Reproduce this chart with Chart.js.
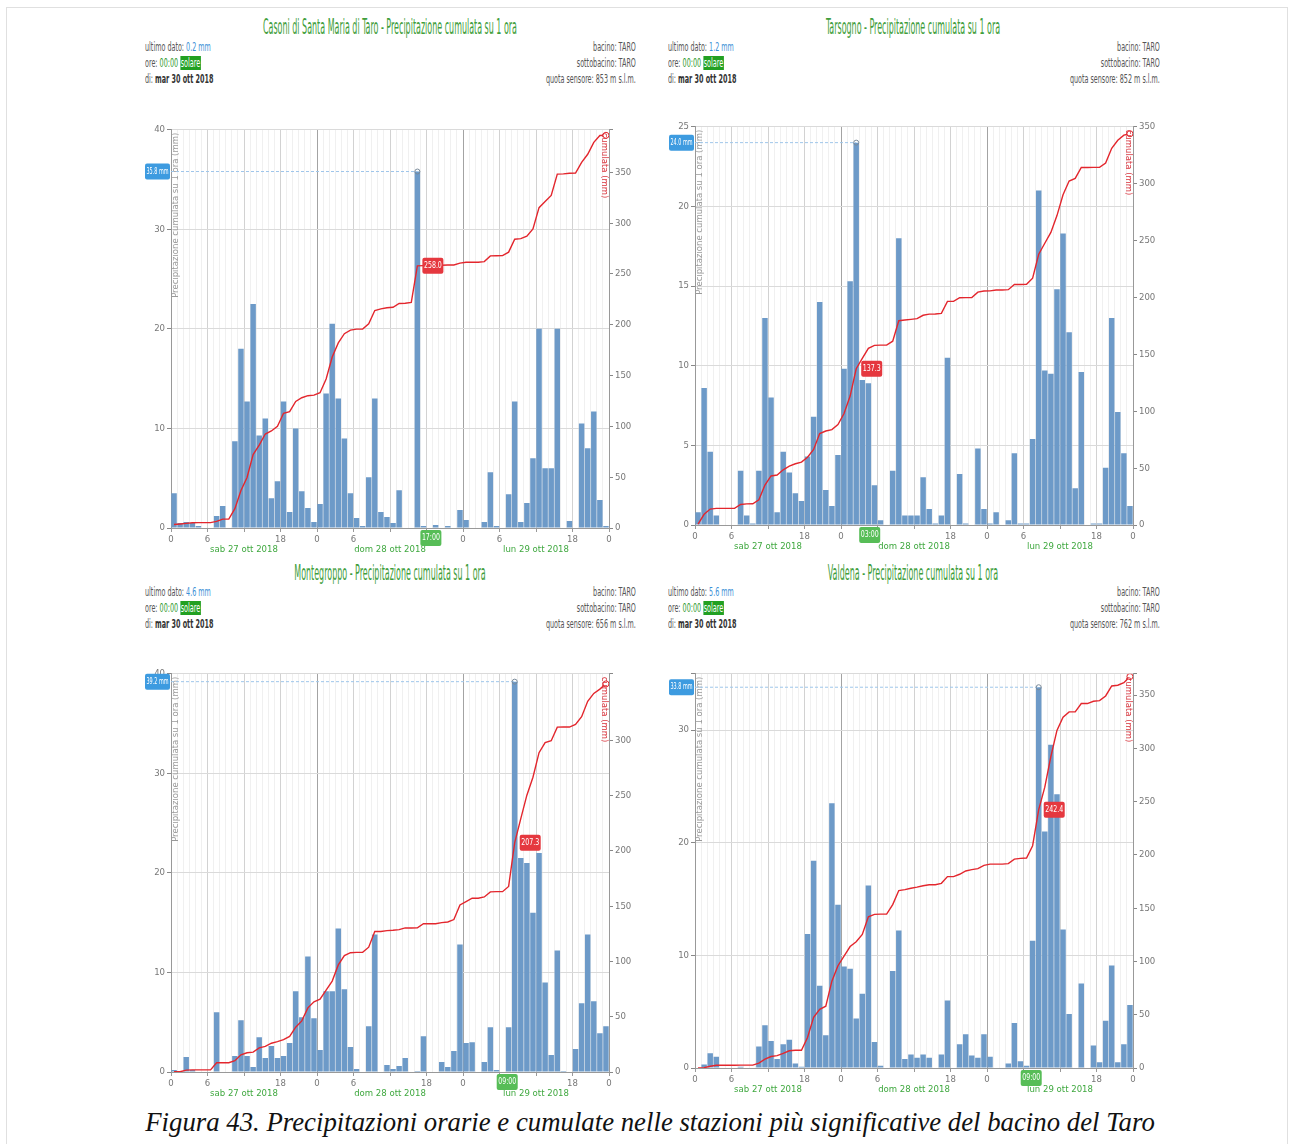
<!DOCTYPE html>
<html lang="it">
<head>
<meta charset="utf-8">
<title>Precipitazioni orarie e cumulate - bacino del Taro</title>
<script src="https://cdn.jsdelivr.net/npm/chart.js@4.4.1/dist/chart.umd.min.js"></script>
<style>
  html, body { margin: 0; padding: 0; background: #fff; }
  body { width: 1290px; height: 1144px; position: relative; overflow: hidden;
         font-family: "Liberation Sans Narrow", "DejaVu Sans Condensed", "Liberation Sans", sans-serif; }
  .frame { position: absolute; left: 6px; top: 7px; width: 1280px; height: 1140px; border: 1px solid #e0e0e0; }
  .title { position: absolute; color: #3f9e3c; font-size: 21px; line-height: 20px; white-space: nowrap; transform-origin: center center; }
  .info { position: absolute; font-size: 11.5px; line-height: 16px; color: #555; white-space: nowrap; }
  .info.l { transform-origin: left top; }
  .info.r { text-align: right; transform-origin: right top; }
  .blue { color: #3b8fd6; }
  .green { color: #2f9a2f; }
  .tag { background: #22a022; color: #fff; padding: 0 1px; }
  .dark { color: #333; font-weight: bold; }
  canvas { position: absolute; }
  .caption { position: absolute; top: 1107px; line-height: 30px; font-family: "Liberation Serif", "DejaVu Serif", serif;
             font-style: italic; font-size: 23px; color: #111; white-space: nowrap; }
</style>
</head>
<body>
<div class="frame"></div>
<div class="caption" id="caption">Figura 43. Precipitazioni orarie e cumulate nelle stazioni più significative del bacino del Taro</div>

<script>
// ===== Dati =====
const stations = ['Casoni di Santa Maria di Taro', 'Tarsogno', 'Montegroppo', 'Valdena'];
const ultimoDato = ['0.2', '1.2', '4.6', '5.6'];
const quote = ['853', '852', '656', '762'];
const bacino = 'TARO';
const oraDato = '00:00';
const giornoDato = 'mar 30 ott 2018';
const days = ['sab 27 ott 2018', 'dom 28 ott 2018', 'lun 29 ott 2018'];
const hourLabels = ['0', '6', '12', '18'];

// pioggia oraria (mm), 72 ore da sab 27 00:00
const rainCasoni = [
  3.5, 0.5, 0.6, 0.5, 0.2, 0, 0, 1.2, 2.2, 0,
  8.7, 18, 12.7, 22.5, 9.3, 11, 3, 4.7, 12.7, 1.6,
  10, 3.7, 2, 0.6, 2.4, 13.5, 20.5, 13, 9, 3.5,
  1, 0.2, 5.1, 13, 1.6, 1.1, 0.5, 3.8, 0, 0,
  35.8, 0.2, 0, 0.3, 0, 0.2, 0, 1.8, 0.8, 0,
  0, 0.6, 5.6, 0.2, 0, 3.4, 12.7, 0.6, 2.5, 7,
  20, 6, 6, 20, 0, 0.7, 0, 10.5, 8, 11.7,
  2.8, 0.2
];
const rainTarsogno = [
  0.8, 8.6, 4.6, 0.6, 0, 0, 0, 3.4, 0.6, 0.1,
  3.4, 13, 8, 0.8, 4.6, 3.3, 2, 1.5, 4.3, 6.8,
  14, 2.2, 1.2, 4.4, 9.8, 15.3, 24, 9.1, 8.9, 2.5,
  0.3, 0, 3.4, 18, 0.6, 0.6, 0.6, 3, 1, 0.1,
  0.6, 10.5, 0, 3.2, 0.1, 0, 4.8, 1, 0.1, 0.8,
  0, 0.3, 4.5, 0.1, 0.1, 5.4, 21, 9.7, 9.5, 14.8,
  18.3, 12.1, 2.3, 9.6, 0, 0.1, 0.1, 3.6, 13, 7.1,
  4.5, 1.2
];
const rainMontegroppo = [
  0.2, 0, 1.5, 0.2, 0, 0, 0, 6, 0, 0,
  1.6, 5.2, 1.6, 0.5, 3.5, 1.4, 2.6, 1.4, 1.6, 2.9,
  8.1, 5.5, 11.6, 5.4, 2.2, 8.1, 8.1, 14.4, 8.3, 2.5,
  0.3, 0, 4.6, 13.8, 0, 0.7, 0.3, 0.6, 1.4, 0,
  0.1, 3.6, 0, 0, 1, 0.5, 2.1, 12.8, 2.9, 3,
  0, 1, 4.5, 0.2, 0, 4.5, 39.2, 21.5, 21, 16,
  22, 9, 1.7, 12.2, 0.1, 0, 2.3, 6.9, 13.8, 7.1,
  3.9, 4.6
];
const rainValdena = [
  0, 0.3, 1.3, 1, 0, 0, 0, 0.1, 0, 0,
  1.9, 3.8, 2.4, 0.8, 2.1, 2.5, 0.4, 0.1, 11.9, 18.4,
  7.3, 2.9, 23.5, 14.5, 9, 8.8, 4.4, 6.6, 16.2, 2.3,
  0.2, 0, 8.6, 12.2, 0.8, 1.2, 0.9, 1.2, 0.9, 0,
  1.2, 6, 0, 2.1, 3, 1.1, 0.9, 3, 1, 0,
  0, 0.4, 4, 0.6, 0.2, 11.3, 33.8, 21, 28.7, 24.3,
  12.3, 4.8, 0, 7.5, 0, 2, 0.5, 4.2, 9.1, 0.5,
  2.1, 5.6
];

const cumCasoni = [
  3.5, 4.0, 4.6, 5.1, 5.3, 5.3, 5.3, 6.5, 8.7, 8.8,
  19.0, 37.0, 49.7, 72.2, 81.5, 92.5, 95.5, 100.2, 112.9, 114.5,
  124.5, 128.2, 130.2, 130.8, 133.2, 146.7, 168.2, 182.2, 191.2, 194.7,
  195.7, 195.9, 201.0, 214.0, 215.6, 216.7, 217.2, 221.0, 221.2, 222.0,
  258.0, 258.2, 258.2, 258.5, 258.6, 258.8, 258.9, 260.7, 261.5, 261.6,
  261.6, 262.2, 267.8, 268.0, 268.1, 271.5, 284.2, 284.8, 287.3, 294.3,
  315.3, 321.3, 327.3, 348.3, 348.5, 349.2, 349.3, 359.8, 367.8, 379.5,
  386.3, 386.5
];
const cumTarsogno = [
  0.8, 9.4, 14.0, 14.6, 14.6, 14.6, 14.6, 18.0, 18.6, 18.7,
  22.1, 35.1, 43.1, 43.9, 48.5, 51.8, 53.8, 55.3, 59.6, 66.4,
  80.4, 82.6, 83.8, 88.2, 98.0, 113.3, 137.3, 146.4, 155.3, 157.8,
  158.1, 158.1, 161.5, 179.5, 180.1, 180.7, 181.3, 184.3, 185.3, 185.4,
  186.0, 196.5, 196.5, 199.7, 199.8, 199.8, 204.6, 205.6, 205.7, 206.5,
  206.5, 206.8, 211.3, 211.4, 211.5, 216.9, 237.9, 247.6, 257.1, 271.9,
  290.2, 302.3, 304.6, 314.2, 314.2, 314.3, 314.4, 318.0, 331.0, 338.1,
  342.6, 343.8
];
const cumMontegroppo = [
  0.2, 0.2, 1.7, 1.9, 1.9, 1.9, 1.9, 8.4, 8.4, 8.4,
  10.2, 15.6, 17.4, 18.0, 21.8, 23.2, 26.0, 27.5, 29.2, 32.2,
  40.5, 46.2, 58.0, 63.5, 65.8, 74.0, 82.2, 96.8, 105.2, 107.8,
  108.1, 108.1, 112.8, 127.0, 127.0, 127.8, 128.1, 128.7, 130.2, 130.2,
  130.3, 134.0, 134.0, 134.0, 135.0, 135.6, 137.8, 151.0, 154.0, 157.1,
  157.1, 158.2, 162.8, 163.0, 163.0, 167.7, 207.3, 229.0, 250.2, 266.4,
  288.6, 297.7, 299.4, 311.7, 311.8, 311.8, 314.1, 321.1, 335.0, 342.2,
  346.1, 350.8
];
const cumValdena = [
  0, 0.3, 1.6, 2.6, 2.6, 2.6, 2.6, 2.7, 2.7, 2.7,
  4.6, 8.4, 10.8, 11.6, 13.7, 16.2, 16.6, 16.7, 28.6, 47.5,
  55.0, 58.0, 81.5, 96.0, 105.0, 114.0, 118.5, 125.3, 141.8, 144.2,
  144.4, 144.4, 153.3, 166.5, 167.4, 168.7, 169.7, 171.0, 172.0, 172.0,
  173.3, 179.6, 179.6, 181.8, 184.9, 186.1, 187.1, 190.2, 191.3, 191.3,
  191.3, 191.8, 196.0, 196.7, 197.0, 208.6, 242.4, 263.5, 292.3, 316.8,
  329.2, 334.2, 334.2, 342.0, 342.0, 344.1, 344.7, 349.1, 358.5, 359.2,
  361.5, 367.3
];

const rainSeries = [rainCasoni, rainTarsogno, rainMontegroppo, rainValdena];
const cumSeries = [cumCasoni, cumTarsogno, cumMontegroppo, cumValdena];

// ===== Layout dei quattro pannelli =====
const layout = [
  { left: 140, top: 122, plotH: 400, titleX: 390, titleY: 17,  infoL: 145, infoR: 636,  infoY: 39,  tip: 'right', yMax: 40, yStep: 10, y2Max: 392 },
  { left: 664, top: 119, plotH: 400, titleX: 913, titleY: 17,  infoL: 668, infoR: 1160, infoY: 39,  tip: 'right', yMax: 25, yStep: 5,  y2Max: 350 },
  { left: 140, top: 666, plotH: 400, titleX: 390, titleY: 563, infoL: 145, infoR: 636,  infoY: 584, tip: 'left',  yMax: 40, yStep: 10, y2Max: 360 },
  { left: 664, top: 666, plotH: 396, titleX: 913, titleY: 563, infoL: 668, infoR: 1160, infoY: 584, tip: 'left',  yMax: 35, yStep: 10, y2Max: 370 }
];

const NARROW = '"Liberation Sans Narrow", "DejaVu Sans Condensed", "Liberation Sans", sans-serif';
Chart.defaults.font.family = NARROW;
Chart.defaults.font.size = 9.5;
Chart.defaults.color = '#777';

// ===== Intestazioni =====
function addDiv(cls, html, css) {
  const d = document.createElement('div');
  d.className = cls;
  d.innerHTML = html;
  Object.assign(d.style, css);
  document.body.appendChild(d);
  return d;
}

const titles = [], infos = [];
layout.forEach((L, k) => {
  titles.push(addDiv('title', stations[k] + ' - Precipitazione cumulata su 1 ora',
    { left: L.titleX + 'px', top: L.titleY + 'px' }));
  infos.push(addDiv('info l',
    `<div>ultimo dato: <span class="blue">${ultimoDato[k]} mm</span></div>` +
    `<div>ore: <span class="green">${oraDato}</span> <span class="tag">solare</span></div>` +
    `<div>di: <span class="dark">${giornoDato}</span></div>`,
    { left: L.infoL + 'px', top: L.infoY + 'px' }));
  infos.push(addDiv('info r',
    `<div>bacino: ${bacino}</div><div>sottobacino: ${bacino}</div>` +
    `<div class="q">quota sensore: ${quote[k]} m s.l.m.</div>`,
    { right: (1290 - L.infoR) + 'px', top: L.infoY + 'px' }));
});

function fitTexts() {
  const tW = titles[0].getBoundingClientRect().width;
  const ts = 254 / tW;
  titles.forEach(t => { t.style.transform = `translateX(-50%) scaleX(${ts})`; });
  const q = infos[1].querySelector('.q');
  const r = document.createRange();
  r.selectNodeContents(q);
  const qW = r.getBoundingClientRect().width;
  const is = 90 / qW;
  infos.forEach(d => { d.style.transform = `scaleX(${is})`; });
  const cap = document.getElementById('caption');
  const cW = cap.getBoundingClientRect().width;
  cap.style.fontSize = (23 * 1010 / cW) + 'px';
  cap.style.left = '650px';
  cap.style.transform = 'translateX(-50%)';
}
fitTexts();

// ===== Etichette e sovrapposizioni =====
function hourTick(v) {
  if (v % 6 !== 0) return '';
  const h = v % 24;
  return h === 12 ? '' : hourLabels[h / 6];
}

function gridCol(v) {
  if (v % 24 === 0) return '#a3a3a3';
  if (v % 6 === 0) return '#d2d2d2';
  return '#f0f0f0';
}

function roundRect(ctx, x, y, w, h, fill) {
  ctx.fillStyle = fill;
  ctx.beginPath();
  ctx.roundRect(x, y, w, h, 2);
  ctx.fill();
}

function makeOverlay(k) {
  const L = layout[k];
  const rain = rainSeries[k], cum = cumSeries[k];
  return {
    id: 'overlay' + k,
    afterDraw(chart) {
      const { ctx, chartArea: a, scales } = chart;
      const iMax = rain.indexOf(Math.max(...rain));
      const xm = scales.x.getPixelForValue(iMax + 0.5);
      const ym = scales.y.getPixelForValue(rain[iMax]);
      ctx.save();

      // titoli degli assi
      ctx.font = '8.5px "DejaVu Sans", sans-serif';
      ctx.textBaseline = 'middle';
      ctx.save();
      ctx.translate(a.left + 5, a.top + 3);
      ctx.rotate(-Math.PI / 2);
      ctx.textAlign = 'right';
      ctx.fillStyle = '#9a9a9a';
      ctx.fillText('Precipitazione cumulata su 1 ora (mm)', 0, 0);
      ctx.restore();
      ctx.save();
      ctx.translate(a.right - 5, a.top + 3);
      ctx.rotate(Math.PI / 2);
      ctx.textAlign = 'left';
      ctx.fillStyle = '#d8323b';
      ctx.fillText('cumulata (mm)', 0, 0);
      ctx.restore();

      // linea del massimo
      ctx.strokeStyle = '#9fc6ea';
      ctx.lineWidth = 1;
      ctx.setLineDash([3, 2]);
      ctx.beginPath();
      ctx.moveTo(a.left, ym);
      ctx.lineTo(xm, ym);
      ctx.stroke();
      ctx.setLineDash([]);
      ctx.strokeStyle = '#7a8a99';
      ctx.beginPath();
      ctx.arc(xm, ym, 2.5, 0, Math.PI * 2);
      ctx.stroke();

      ctx.font = '8px ' + NARROW;
      ctx.textAlign = 'center';
      const bw = a.left - 6;
      roundRect(ctx, 5, ym - 8, bw, 16, '#3d9be0');
      ctx.fillStyle = '#fff';
      ctx.fillText(rain[iMax].toFixed(1) + ' mm', 5 + bw / 2, ym, bw - 3);

      // ora sul cursore
      const gw = 21;
      const gx = L.tip === 'right' ? xm + 3 : xm + 3 - gw;
      roundRect(ctx, gx, a.bottom + 2, gw, 16, '#57bd57');
      ctx.fillStyle = '#fff';
      const hh = String((iMax + 1) % 24).padStart(2, '0') + ':00';
      ctx.fillText(hh, gx + gw / 2, a.bottom + 10, gw - 3);

      // valore cumulato sul cursore
      const yc = scales.y2.getPixelForValue(cum[iMax]);
      roundRect(ctx, xm + 5, yc - 8, 21, 16, '#e5383f');
      ctx.fillStyle = '#fff';
      ctx.fillText(cum[iMax].toFixed(1), xm + 15.5, yc, 18);

      ctx.restore();
    }
  };
}

// ===== Grafici =====
function buildChart(k) {
  const L = layout[k];
  const rain = rainSeries[k], cum = cumSeries[k];
  const cv = document.createElement('canvas');
  cv.width = 500;
  cv.height = 6 + L.plotH + 34;
  cv.style.left = L.left + 'px';
  cv.style.top = L.top + 'px';
  document.body.appendChild(cv);
  const last = cum.length - 1;

  return new Chart(cv, {
    type: 'bar',
    data: {
      datasets: [
        {
          type: 'line',
          data: cum.map((v, i) => ({ x: i + 0.5, y: v })),
          xAxisID: 'x', yAxisID: 'y2',
          borderColor: '#e3262d', borderWidth: 1.4, tension: 0,
          pointRadius: c => (c.dataIndex === last ? 3 : 0),
          pointBorderColor: '#e3262d', pointBackgroundColor: '#fff', pointBorderWidth: 1,
          order: 0
        },
        {
          type: 'bar',
          data: rain.map((v, i) => ({ x: i + 0.5, y: v })),
          xAxisID: 'x', yAxisID: 'y',
          backgroundColor: '#6d9ac8',
          barPercentage: 0.9, categoryPercentage: 1,
          order: 1
        }
      ]
    },
    options: {
      responsive: false,
      animation: false,
      devicePixelRatio: 1,
      layout: { padding: { top: 6, left: 0, right: 0, bottom: 0 } },
      plugins: { legend: { display: false }, tooltip: { enabled: false } },
      scales: {
        x: {
          type: 'linear', position: 'bottom', min: 0, max: 72, offset: false, weight: 0,
          afterFit: s => { s.height = 16; },
          ticks: { stepSize: 1, autoSkip: false, maxRotation: 0, padding: 2, color: '#777', callback: v => hourTick(v) },
          grid: {
            offset: false, tickLength: 4,
            color: c => gridCol(c.tick.value),
            tickColor: c => (c.tick.value % 6 === 0 ? '#999' : 'rgba(0,0,0,0)')
          },
          border: { color: '#999' }
        },
        xd: {
          type: 'linear', position: 'bottom', min: 0, max: 72, offset: false, weight: 1,
          afterFit: s => { s.height = 18; },
          ticks: {
            stepSize: 12, autoSkip: false, maxRotation: 0, padding: 0, color: '#3fa83f',
            callback: v => (v % 24 === 12 ? days[(v - 12) / 24] : null)
          },
          grid: { display: false, drawTicks: false },
          border: { display: false }
        },
        y: {
          position: 'left', min: 0, max: L.yMax,
          afterFit: s => { s.width = 31; },
          ticks: { stepSize: L.yStep, padding: 2, callback: v => (v % L.yStep === 0 ? v : '') },
          grid: { color: '#dadada', tickColor: '#888', tickLength: 4 },
          border: { color: '#999' }
        },
        y2: {
          position: 'right', min: 0, max: L.y2Max,
          afterFit: s => { s.width = 31; },
          ticks: { stepSize: 50, padding: 2, callback: v => (v % 50 === 0 ? v : '') },
          grid: { drawOnChartArea: false, tickColor: '#888', tickLength: 4 },
          border: { color: '#999' }
        }
      }
    },
    plugins: [makeOverlay(k)]
  });
}

layout.forEach((L, k) => buildChart(k));
</script>
</body>
</html>
